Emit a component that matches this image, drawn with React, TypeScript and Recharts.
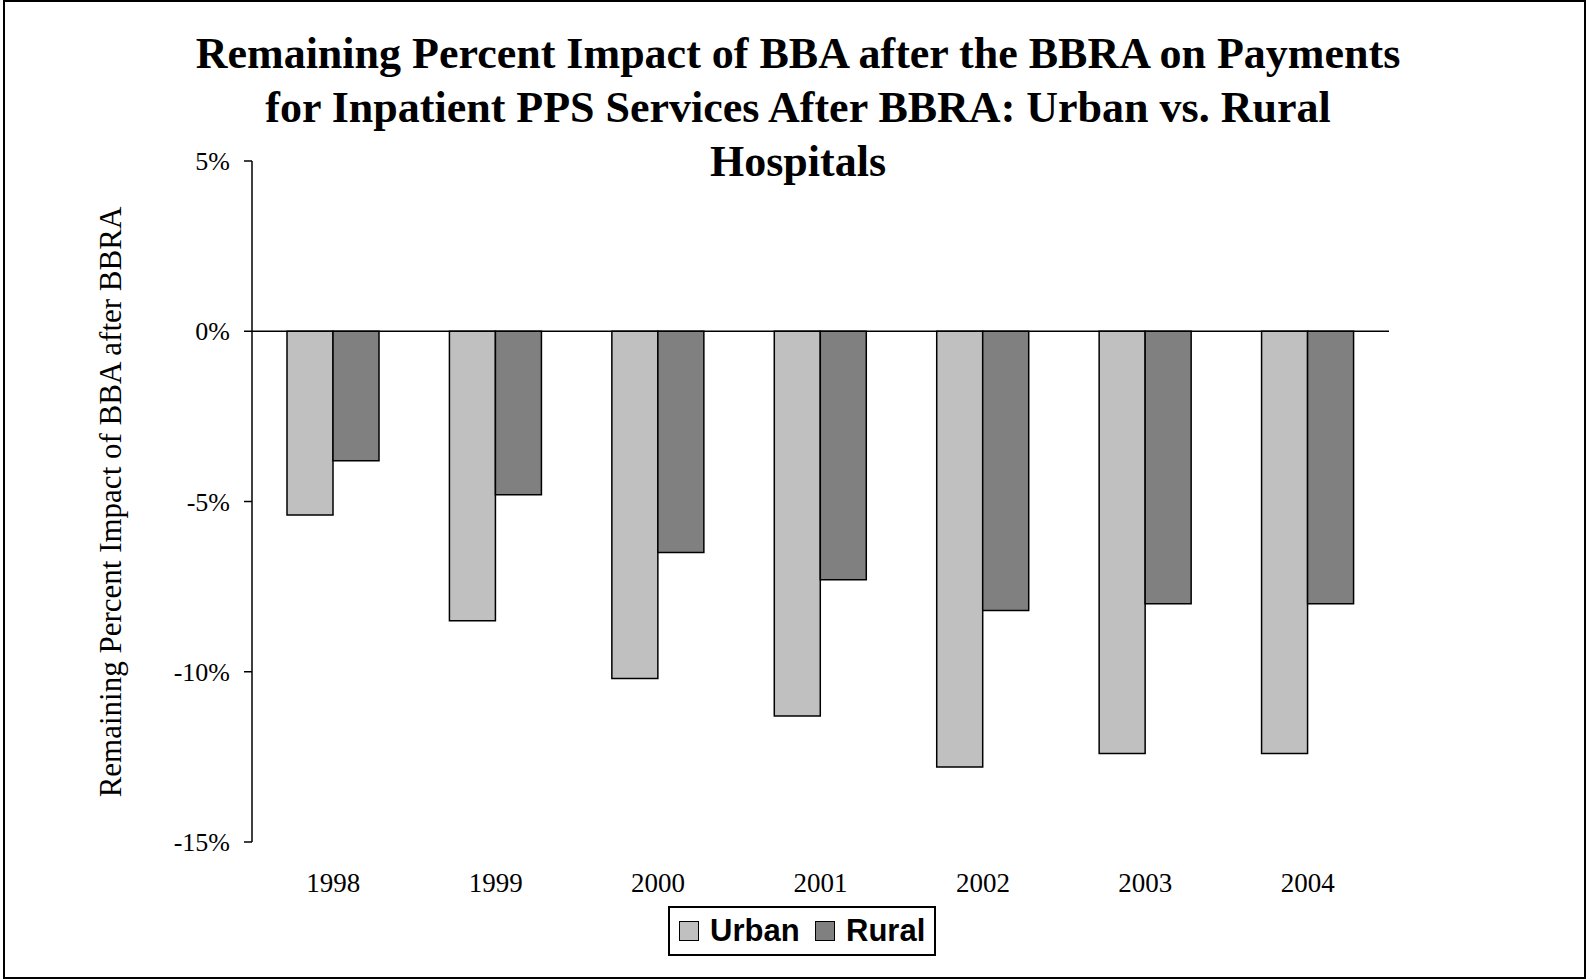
import React from "react";
import { BarChart, Bar, XAxis, YAxis, ReferenceLine } from "recharts";

const years = ["1998", "1999", "2000", "2001", "2002", "2003", "2004"];
const urban = [-5.4, -8.5, -10.2, -11.3, -12.8, -12.4, -12.4];
const rural = [-3.8, -4.8, -6.5, -7.3, -8.2, -8.0, -8.0];
const yTicks = [-15, -10, -5, 0, 5];
const titleLines = [
  "Remaining Percent Impact of BBA after the BBRA on Payments",
  "for Inpatient PPS Services After BBRA: Urban vs. Rural",
  "Hospitals",
];
const yLabel = "Remaining Percent Impact of BBA after BBRA";
const seriesNames = ["Urban", "Rural"];
const colors = ["#C0C0C0", "#808080"];

const data = years.map((y, i) => ({ year: y, Urban: urban[i], Rural: rural[i] }));

const serif = "'Liberation Serif', 'Times New Roman', serif";
const sans = "'Liberation Sans', Arial, sans-serif";

export default function App() {
  return (
    <div style={{ position: "absolute", left: 0, top: 0, width: 1587, height: 979, background: "#fff" }}>
      <div
        style={{
          position: "absolute",
          left: 3,
          top: 0,
          width: 1583,
          height: 979,
          border: "2px solid #000",
          boxSizing: "border-box",
        }}
      />
      <div style={{ position: "absolute", left: 0, top: 0 }}>
        <BarChart
          width={1587}
          height={979}
          data={data}
          margin={{ top: 161, right: 198, bottom: 77, left: 152 }}
          barGap={0}
          barSize={46}
        >
          <XAxis
            dataKey="year"
            axisLine={false}
            tickLine={false}
            tickSize={8}
            tickMargin={23}
            height={60}
            tick={{ fontFamily: serif, fontSize: 27, fill: "#000" }}
          />
          <YAxis
            domain={[-15, 5]}
            ticks={yTicks}
            width={100}
            tickFormatter={(v: number) => `${v}%`}
            axisLine={{ stroke: "#000", strokeWidth: 1.5 }}
            tickLine={{ stroke: "#000", strokeWidth: 1.5 }}
            tickSize={8}
            tickMargin={14}
            tick={{ fontFamily: serif, fontSize: 26, fill: "#000" }}
            interval={0}
          />
          <ReferenceLine y={0} stroke="#000" strokeWidth={1.5} />
          <Bar dataKey="Urban" fill={colors[0]} stroke="#000" strokeWidth={1.5} isAnimationActive={false} />
          <Bar dataKey="Rural" fill={colors[1]} stroke="#000" strokeWidth={1.5} isAnimationActive={false} />
        </BarChart>
      </div>
      {titleLines.map((t, i) => (
        <div
          key={i}
          style={{
            position: "absolute",
            left: 0,
            width: 1596,
            top: 54 + i * 54 - 27,
            height: 54,
            lineHeight: "54px",
            textAlign: "center",
            fontFamily: serif,
            fontWeight: "bold",
            fontSize: 44,
            color: "#000",
            whiteSpace: "nowrap",
          }}
        >
          {t}
        </div>
      ))}
      <div
        style={{
          position: "absolute",
          left: 111 - 400,
          top: 502 - 20,
          width: 800,
          height: 40,
          lineHeight: "40px",
          textAlign: "center",
          transform: "rotate(-90deg)",
          fontFamily: serif,
          fontSize: 31,
          color: "#000",
          whiteSpace: "nowrap",
        }}
      >
        {yLabel}
      </div>
      <div
        style={{
          position: "absolute",
          left: 668,
          top: 906,
          width: 268,
          height: 50,
          border: "2px solid #000",
          boxSizing: "border-box",
          background: "#fff",
        }}
      >
        {seriesNames.map((n, i) => (
          <div
            key={n}
            style={{
              position: "absolute",
              left: i === 0 ? 9 : 145,
              top: 0,
              height: 46,
              display: "flex",
              alignItems: "center",
            }}
          >
            <div
              style={{
                width: 20,
                height: 20,
                background: colors[i],
                border: "1.5px solid #000",
                boxSizing: "border-box",
                marginRight: 11,
              }}
            />
            <span style={{ fontFamily: sans, fontWeight: "bold", fontSize: 31, color: "#000" }}>{n}</span>
          </div>
        ))}
      </div>
    </div>
  );
}
